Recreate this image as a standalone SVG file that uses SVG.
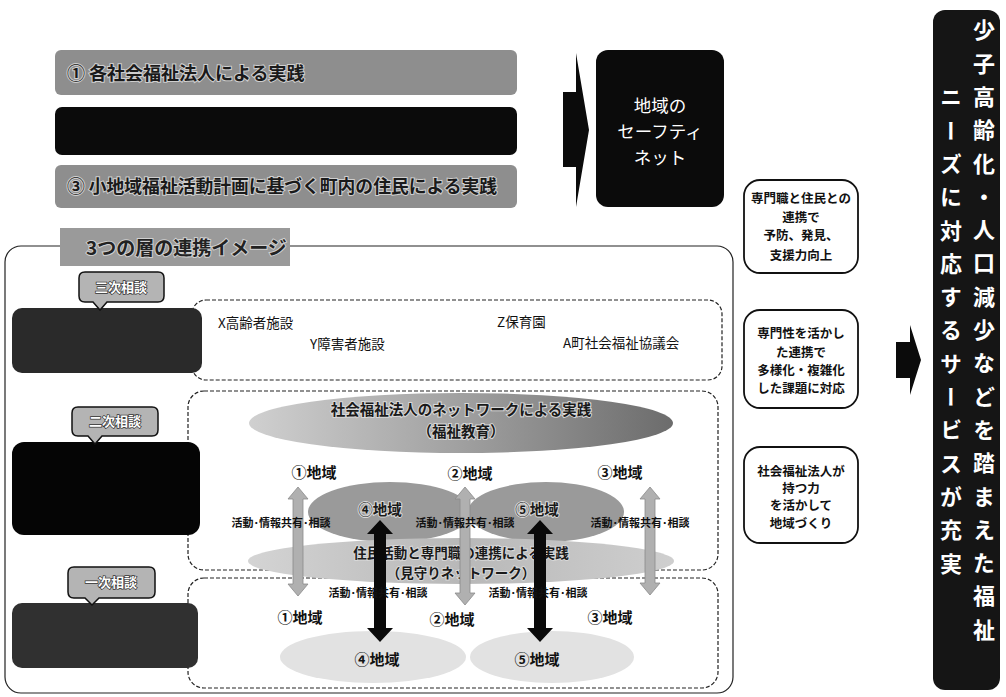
<svg xmlns="http://www.w3.org/2000/svg" width="1006" height="697" viewBox="0 0 1006 697">
<style>
text{font-family:'Noto Sans CJK JP','Noto Sans CJK SC',sans-serif}
.ban{fill:#8e8e8e}
.bant{font-size:18px;font-weight:bold;fill:#1a1a1a;stroke:#cfcfcf;stroke-width:2;paint-order:stroke}
.blk{fill:#0b0b0b}
.rbox{fill:#fff;stroke:#111;stroke-width:1.8}
.rt{font-size:12.5px;font-weight:bold;fill:#111;text-anchor:middle}
.dash{fill:none;stroke:#222;stroke-width:1.2;stroke-dasharray:4 2}
.call{fill:#b4b4b4;stroke:#111;stroke-width:1.5}
.callt{font-size:13px;font-weight:bold;fill:#fff;stroke:#333;stroke-width:1.4;paint-order:stroke;text-anchor:middle}
.pt{font-size:13.5px;fill:#111}
.reg{font-size:15px;font-weight:bold;fill:#111;text-anchor:middle}
.ell{font-size:14.5px;font-weight:bold;fill:#1a1a1a;stroke:#d8d8d8;stroke-width:2;paint-order:stroke;text-anchor:middle}
.ell2{font-size:13.5px;font-weight:bold;fill:#1a1a1a;stroke:#d8d8d8;stroke-width:2;paint-order:stroke;text-anchor:middle}
.act{font-size:11px;font-weight:bold;fill:#111;text-anchor:middle}
.garr{fill:#b0b0b0;stroke:#8a8a8a;stroke-width:0.8}
.barr{fill:#0a0a0a}
.vt{font-size:22px;font-weight:bold;fill:#fff;writing-mode:vertical-rl;letter-spacing:11.3px}
</style>
<defs>
<linearGradient id="g1" x1="0" x2="1" y1="0" y2="0">
<stop offset="0" stop-color="#d0d0d0"/><stop offset="0.5" stop-color="#a0a0a0"/><stop offset="1" stop-color="#6c6c6c"/>
</linearGradient>
<linearGradient id="g2" x1="0" x2="1" y1="0" y2="0">
<stop offset="0" stop-color="#d4d4d4"/><stop offset="0.5" stop-color="#b8b8b8"/><stop offset="1" stop-color="#cfcfcf"/>
</linearGradient>
</defs>

<g id="banner1"><rect class="ban" x="55" y="50" width="462" height="45" rx="6"/><text class="bant" x="67" y="80">① 各社会福祉法人による実践</text></g>
<g id="banner2"><rect class="blk" x="55" y="107" width="462" height="48" rx="7"/></g>
<g id="banner3"><rect class="ban" x="55" y="165" width="462" height="43" rx="6"/><text class="bant" x="67" y="193" textLength="430" lengthAdjust="spacingAndGlyphs">③ 小地域福祉活動計画に基づく町内の住民による実践</text></g>

<g id="safety-net"><rect class="blk" x="596" y="50" width="128" height="157" rx="12"/>
<text x="660" y="112" font-size="17.5" fill="#fff" text-anchor="middle">地域の</text>
<text x="660" y="138" font-size="17.5" fill="#fff" text-anchor="middle">セーフティ</text>
<text x="660" y="164" font-size="17.5" fill="#fff" text-anchor="middle">ネット</text></g>

<g id="box-prevent"><rect class="rbox" x="744" y="180" width="114" height="93" rx="16"/>
<text class="rt" x="801" y="203">専門職と住民との</text><text class="rt" x="801" y="222">連携で</text><text class="rt" x="801" y="240">予防、発見、</text><text class="rt" x="801" y="260">支援力向上</text></g>
<g id="box-expert"><rect class="rbox" x="744" y="310" width="114" height="98" rx="16"/>
<text class="rt" x="801" y="338">専門性を活かし</text><text class="rt" x="801" y="357">た連携で</text><text class="rt" x="801" y="375">多様化・複雑化</text><text class="rt" x="801" y="393">した課題に対応</text></g>
<g id="box-community"><rect class="rbox" x="744" y="447" width="114" height="96" rx="16"/>
<text class="rt" x="801" y="476">社会福祉法人が</text><text class="rt" x="801" y="493">持つ力</text><text class="rt" x="801" y="510">を活かして</text><text class="rt" x="801" y="528">地域づくり</text></g>

<g id="outcome"><rect x="933" y="10" width="67" height="680" rx="12" fill="#151515"/>
<text class="vt" x="984" y="19">少子高齢化・人口減少などを踏まえた福祉</text>
<text class="vt" x="951" y="86">ニーズに対応するサービスが充実</text></g>

<g id="frame"><rect x="5" y="246" width="728" height="447" rx="16" fill="none" stroke="#222" stroke-width="1.2"/>
<rect x="60" y="228" width="230" height="38" fill="#9a9a9a"/>
<text x="86" y="255" font-size="19" font-weight="bold" fill="#222" stroke="#d0d0d0" stroke-width="2" paint-order="stroke">3つの層の連携イメージ</text></g>

<g id="panel-tertiary"><rect class="dash" x="192" y="300" width="530" height="80" rx="14"/>
<text class="pt" x="218" y="328">X高齢者施設</text><text class="pt" x="310" y="349">Y障害者施設</text>
<text class="pt" x="497" y="327">Z保育園</text><text class="pt" x="563" y="348">A町社会福祉協議会</text></g>
<g id="panel-secondary"><rect class="dash" x="188" y="391" width="530" height="179" rx="16"/></g>
<g id="panel-primary"><rect class="dash" x="188" y="578" width="530" height="110" rx="16"/></g>

<g id="tertiary"><rect x="12" y="308" width="190" height="65" rx="10" fill="#2a2a2a"/>
<path class="call" d="M85,272H158Q164,272 164,278V296Q164,302 158,302H107L100,310L93,302H85Q79,302 79,296V278Q79,272 85,272Z"/>
<text class="callt" x="121" y="292">三次相談</text></g>
<g id="secondary"><rect x="12" y="442" width="188" height="93" rx="12" fill="#050505"/>
<path class="call" d="M78,407H152Q158,407 158,413V430Q158,436 152,436H102L95,444L88,436H78Q72,436 72,430V413Q72,407 78,407Z"/>
<text class="callt" x="115" y="426">二次相談</text></g>
<g id="primary"><rect x="12" y="603" width="186" height="65" rx="10" fill="#303030"/>
<path class="call" d="M74,567H149Q155,567 155,573V592Q155,598 149,598H99L92,605L85,598H74Q68,598 68,592V573Q68,567 74,567Z"/>
<text class="callt" x="111" y="587">一次相談</text></g>

<g id="net-corp"><ellipse cx="461" cy="423" rx="212" ry="30" fill="url(#g1)"/>
<text class="ell" x="461" y="415">社会福祉法人のネットワークによる実践</text><text class="ell" x="461" y="437">（福祉教育）</text></g>
<g id="region1-upper"><text class="reg" x="314" y="478">①地域</text></g>
<g id="region2-upper"><text class="reg" x="470" y="479">②地域</text></g>
<g id="region3-upper"><text class="reg" x="620" y="478">③地域</text></g>
<g id="region4-upper"><ellipse cx="390" cy="512" rx="82" ry="30" fill="#9a9a9a"/><text class="ell" x="380" y="515">④地域</text></g>
<g id="region5-upper"><ellipse cx="546" cy="512" rx="78" ry="30" fill="#9a9a9a"/><text class="ell" x="537" y="515">⑤地域</text></g>
<g id="watch-net"><ellipse cx="461" cy="561" rx="213" ry="23" fill="url(#g2)"/>
<text class="ell2" x="461" y="558">住民活動と専門職の連携による実践</text><text class="ell2" x="461" y="578">（見守りネットワーク）</text></g>
<g id="region4-lower"><ellipse cx="373" cy="657" rx="93" ry="26" fill="#e2e2e2"/><text class="reg" x="377" y="665">④地域</text></g>
<g id="region5-lower"><ellipse cx="552" cy="657" rx="82" ry="26" fill="#e2e2e2"/><text class="reg" x="537" y="665">⑤地域</text></g>
<g id="region1-lower"><text class="reg" x="300" y="623">①地域</text></g>
<g id="region2-lower"><text class="reg" x="452" y="625">②地域</text></g>
<g id="region3-lower"><text class="reg" x="610" y="623">③地域</text></g>

<g id="connectors">
<polygon class="blk" points="563,92 576,92 576,53 589,130 576,207 576,167 563,167"/>
<polygon class="blk" points="896,342 910,342 910,325 921,360 910,395 910,378 896,378"/>
<polygon class="garr" points="298,487 308,499 303,499 303,584 308,584 298,596 288,584 293,584 293,499 288,499"/>
<polygon class="garr" points="465,487 475,499 470,499 470,593 475,593 465,605 455,593 460,593 460,499 455,499"/>
<polygon class="garr" points="650,487 660,499 655,499 655,583 660,583 650,595 640,583 645,583 645,499 640,499"/>
<polygon class="barr" points="380,520 393,534 386,534 386,628 393,628 380,642 367,628 374,628 374,534 367,534"/>
<polygon class="barr" points="540,520 553,534 546,534 546,628 553,628 540,642 527,628 534,628 534,534 527,534"/>
<text class="act" x="281" y="527">活動･情報共有･相談</text>
<text class="act" x="465" y="527">活動･情報共有･相談</text>
<text class="act" x="640" y="527">活動･情報共有･相談</text>
<text class="act" x="378" y="597" font-weight="normal">活動･情報共有･相談</text>
<text class="act" x="538" y="597" font-weight="normal">活動･情報共有･相談</text>
</g>
</svg>
